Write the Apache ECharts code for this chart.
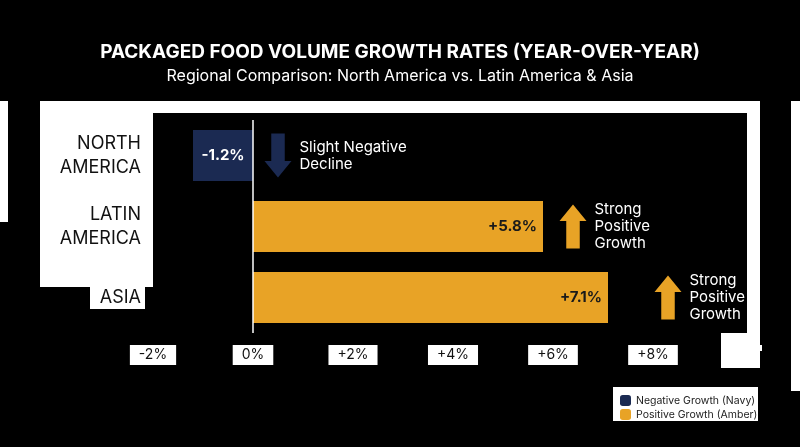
<!DOCTYPE html>
<html><head><meta charset="utf-8">
<script src="https://cdn.jsdelivr.net/npm/echarts@6/dist/echarts.min.js"></script>
<style>html,body{margin:0;background:#000}#c{width:800px;height:447px}</style>
</head><body><div id="c"></div>
<script>
const regions = ['NORTH\nAMERICA', 'LATIN\nAMERICA', 'ASIA']
const growth = [-1.2, 5.8, 7.1]
const noteX = [0.5, 6.4, 8.3]
const notes = ['Slight Negative\nDecline', 'Strong\nPositive\nGrowth', 'Strong\nPositive\nGrowth']
const ticks = [-2, 0, 2, 4, 6, 8]

const NAVY = '#1b2a52', AMBER = '#e8a326'
const FONT = 'Inter, "Noto Sans", sans-serif'
const upArrow = 'path://M5,0 L10,6 L7.5,6 L7.5,16 L2.5,16 L2.5,6 L0,6 Z'
const downArrow = 'path://M2.5,0 L7.5,0 L7.5,10 L10,10 L5,16 L0,10 L2.5,10 Z'

const chart = echarts.init(document.getElementById('c'))
chart.setOption({
  backgroundColor: '#000',
  textStyle: { fontFamily: FONT },
  title: {
    text: 'PACKAGED FOOD VOLUME GROWTH RATES (YEAR-OVER-YEAR)',
    subtext: 'Regional Comparison: North America vs. Latin America & Asia',
    left: 'center', top: 38, itemGap: 6,
    textStyle: { color: '#fff', fontSize: 19, fontWeight: 'bold', fontFamily: FONT },
    subtextStyle: { color: '#fff', fontSize: 16, fontFamily: FONT }
  },
  graphic: [
    { type: 'rect', z: -10, shape: { x: 40, y: 101, width: 720, height: 12 }, style: { fill: '#fff' } },
    { type: 'rect', z: -10, shape: { x: 40, y: 101, width: 113, height: 186 }, style: { fill: '#fff' } },
    { type: 'rect', z: -10, shape: { x: 90, y: 287, width: 55, height: 22 }, style: { fill: '#fff' } },
    { type: 'rect', z: -10, shape: { x: 747, y: 101, width: 13, height: 267 }, style: { fill: '#fff' } },
    { type: 'rect', z: -10, shape: { x: 721, y: 333, width: 39, height: 35 }, style: { fill: '#fff' } },
    { type: 'rect', z: -10, shape: { x: 0, y: 101, width: 8, height: 121 }, style: { fill: '#fff' } },
    { type: 'rect', z: -10, shape: { x: 791, y: 101, width: 9, height: 290 }, style: { fill: '#fff' } },
    { type: 'rect', z: -10, shape: { x: 613, y: 387, width: 145, height: 34 }, style: { fill: '#fff' } }
  ],
  legend: {
    orient: 'vertical', left: 615, top: 390, itemGap: 3, itemWidth: 11, itemHeight: 11,
    textStyle: { color: '#222', fontSize: 10.5, fontFamily: FONT },
    data: [
      { name: 'Negative Growth (Navy)', itemStyle: { color: NAVY } },
      { name: 'Positive Growth (Amber)', itemStyle: { color: AMBER } }
    ]
  },
  grid: { left: 153, right: 47, top: 120, bottom: 114 },
  xAxis: {
    type: 'value', min: -2, max: 10, interval: 2,
    splitLine: { show: false }, axisLine: { show: false }, axisTick: { show: false },
    axisLabel: {
      margin: 12, color: '#111', fontSize: 14, backgroundColor: '#fff', padding: [3, 9],
      formatter: v => ticks.includes(v) ? (v > 0 ? '+' + v + '%' : v + '%') : ''
    }
  },
  yAxis: {
    type: 'category', inverse: true, data: regions,
    axisLine: { show: false }, axisTick: { show: false },
    axisLabel: { color: '#111', fontSize: 18, lineHeight: 24, margin: 12, align: 'right' }
  },
  series: [
    {
      name: 'Negative Growth (Navy)', type: 'bar', stack: 'g', barWidth: 51,
      data: growth.map(v => v < 0 ? v : '-'),
      itemStyle: { color: NAVY },
      label: { show: true, position: 'inside', color: '#fff', fontWeight: 'bold', fontSize: 15, formatter: p => p.value + '%' },
      markLine: { silent: true, symbol: 'none', label: { show: false }, lineStyle: { color: '#fff', type: 'solid', width: 1.5 }, data: [{ xAxis: 0 }] }
    },
    {
      name: 'Positive Growth (Amber)', type: 'bar', stack: 'g', barWidth: 51,
      data: growth.map(v => v > 0 ? v : '-'),
      itemStyle: { color: AMBER },
      label: { show: true, position: 'insideRight', distance: 6, color: '#1a1a1a', fontWeight: 'bold', fontSize: 15, formatter: p => '+' + p.value + '%' }
    },
    {
      type: 'scatter', silent: true, symbolSize: [27, 44],
      data: noteX.map((x, i) => ({
        value: [x, regions[i]],
        symbol: growth[i] < 0 ? downArrow : upArrow,
        itemStyle: { color: growth[i] < 0 ? NAVY : AMBER, opacity: 1 },
        label: { show: true, position: 'right', distance: 8, color: '#fff', fontSize: 15, lineHeight: 17, formatter: notes[i] }
      }))
    }
  ]
})
</script></body></html>
